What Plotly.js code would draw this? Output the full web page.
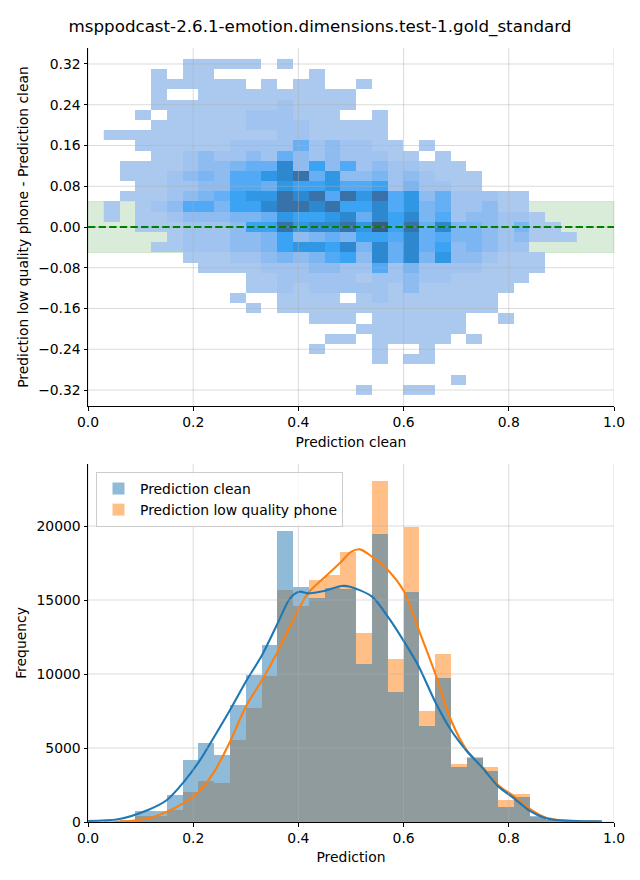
<!DOCTYPE html>
<html>
<head>
<meta charset="utf-8">
<script src="https://cdn.plot.ly/plotly-3.0.1.min.js"></script>
<style>html,body{margin:0;padding:0;background:#fff;}#chart{width:640px;height:880px;}</style>
</head>
<body>
<div id="chart"></div>
<script>
// ---------------- DATA ----------------
const titleText = "msppodcast-2.6.1-emotion.dimensions.test-1.gold_standard";

// bin centres of "Prediction clean" (x) – shared by the 2-D and 1-D histograms
const predBinCenters = [0.045,0.075,0.105,0.135,0.165,0.195,0.225,0.255,0.285,0.315,
                        0.345,0.375,0.405,0.435,0.465,0.495,0.525,0.555,0.585,0.615,
                        0.645,0.675,0.705,0.735,0.765,0.795,0.825,0.855,0.885,0.915];
// bin centres of the difference (y), top to bottom
const diffBinCenters = [0.32,0.30,0.28,0.26,0.24,0.22,0.20,0.18,0.16,0.14,0.12,0.10,0.08,0.06,0.04,0.02,0.00,
                        -0.02,-0.04,-0.06,-0.08,-0.10,-0.12,-0.14,-0.16,-0.18,-0.20,-0.22,-0.24,-0.26,-0.28,-0.30,-0.32];
// density level of each 2-D cell (0 = empty), rows follow diffBinCenters
const densityLevel = [
 [0,0,0,0,0,1,1,1,1,1,0,1,0,0,0,0,0,0,0,0,0,0,0,0,0,0,0,0,0,0],
 [0,0,0,1,0,1,1,0,0,0,0,0,0,1,0,0,0,0,0,0,0,0,0,0,0,0,0,0,0,0],
 [0,0,0,1,1,1,1,1,1,0,1,0,1,1,0,0,1,0,0,0,0,0,0,0,0,0,0,0,0,0],
 [0,0,0,1,0,0,1,1,1,1,1,1,1,1,1,1,0,0,0,0,0,0,0,0,0,0,0,0,0,0],
 [0,0,0,1,1,1,1,1,1,1,1,2,1,1,1,1,0,0,0,0,0,0,0,0,0,0,0,0,0,0],
 [0,0,1,0,1,1,1,1,1,2,2,2,1,1,1,0,0,1,0,0,0,0,0,0,0,0,0,0,0,0],
 [0,0,0,1,1,1,1,1,1,2,2,2,2,1,1,1,1,1,0,0,0,0,0,0,0,0,0,0,0,0],
 [1,1,1,1,1,1,1,1,1,1,1,2,2,1,1,1,1,1,0,0,0,0,0,0,0,0,0,0,0,0],
 [0,0,1,1,1,1,1,1,2,2,2,2,5,2,3,2,2,1,1,0,1,0,0,0,0,0,0,0,0,0],
 [0,0,0,1,1,2,3,2,2,3,2,5,3,2,3,2,2,2,1,1,0,1,0,0,0,0,0,0,0,0],
 [0,1,1,1,1,2,3,3,4,5,5,9,3,7,3,6,2,3,2,2,1,1,1,0,0,0,0,0,0,0],
 [0,1,1,1,2,3,4,3,6,6,8,9,10,5,8,3,3,4,2,3,2,1,1,1,0,0,0,0,0,0],
 [0,0,1,1,2,2,3,3,6,6,5,8,7,7,8,6,6,7,2,4,2,2,1,1,0,0,0,0,0,0],
 [0,1,1,1,2,3,4,5,7,8,8,10,9,10,6,10,8,10,6,8,3,5,2,2,2,1,1,0,0,0],
 [1,0,1,2,3,6,6,4,7,7,9,10,10,9,10,7,7,9,6,8,4,5,2,2,3,1,1,0,0,0],
 [1,0,1,1,2,3,3,3,4,4,5,8,7,7,8,9,5,9,7,9,4,6,2,3,3,2,2,1,0,0],
 [0,0,1,1,1,2,2,2,3,7,7,10,8,9,9,10,8,11,7,10,5,9,4,4,3,2,4,1,1,0],
 [0,0,0,0,1,2,2,2,3,3,4,7,3,4,5,4,7,7,6,9,5,6,4,4,3,2,3,1,1,1],
 [0,0,0,1,1,2,2,2,3,3,4,7,8,8,7,9,4,9,5,9,5,7,3,4,3,2,2,0,0,0],
 [0,0,0,0,0,1,1,1,2,2,3,4,3,4,6,7,3,9,5,9,4,8,3,3,2,1,1,1,0,0],
 [0,0,0,0,0,0,1,1,1,1,2,2,2,3,3,2,2,6,2,4,2,2,2,2,1,1,1,1,0,0],
 [0,0,0,0,0,0,0,0,0,1,1,2,2,2,2,2,1,2,2,3,2,2,1,1,1,1,1,0,0,0],
 [0,0,0,0,0,0,0,0,0,1,1,2,1,2,2,2,2,2,1,3,1,1,1,1,1,1,0,0,0,0],
 [0,0,0,0,0,0,0,0,1,0,0,1,1,1,1,0,1,2,1,1,1,1,1,1,1,0,0,0,0,0],
 [0,0,0,0,0,0,0,0,0,1,0,1,1,1,1,1,1,1,1,1,1,1,1,1,1,0,0,0,0,0],
 [0,0,0,0,0,0,0,0,0,0,0,0,0,1,1,1,0,1,1,1,1,1,1,0,0,1,0,0,0,0],
 [0,0,0,0,0,0,0,0,0,0,0,0,0,0,0,0,1,1,1,1,1,1,1,0,0,0,0,0,0,0],
 [0,0,0,0,0,0,0,0,0,0,0,0,0,0,1,1,0,1,1,1,1,1,0,1,0,0,0,0,0,0],
 [0,0,0,0,0,0,0,0,0,0,0,0,0,1,0,0,0,1,0,0,1,0,0,0,0,0,0,0,0,0],
 [0,0,0,0,0,0,0,0,0,0,0,0,0,0,0,0,0,1,0,1,1,0,0,0,0,0,0,0,0,0],
 [0,0,0,0,0,0,0,0,0,0,0,0,0,0,0,0,0,0,0,0,0,0,0,0,0,0,0,0,0,0],
 [0,0,0,0,0,0,0,0,0,0,0,0,0,0,0,0,0,0,0,0,0,0,1,0,0,0,0,0,0,0],
 [0,0,0,0,0,0,0,0,0,0,0,0,0,0,0,0,1,0,0,1,1,0,0,0,0,0,0,0,0,0]
];

// 1-D histogram counts per bin
const countsClean = [40,120,740,740,1820,4190,5340,4530,7900,9930,11960,19660,15880,15160,15790,
                     15720,10700,19460,8810,15540,6510,9730,3740,4320,3450,1040,1690,400,150,60];
const countsPhone = [20,60,380,380,810,2050,2770,2630,5540,7680,9870,15680,14620,16350,16690,
                     18270,12770,23040,11010,19930,7500,11350,3920,4410,3720,1490,1870,310,130,50];

// KDE curves
const kdeCleanX = [0.0,0.057,0.114,0.150,0.181,0.211,0.240,0.270,0.300,0.331,0.359,0.380,0.390,0.402,0.418,0.431,0.451,0.482,0.498,0.540,0.570,0.601,0.629,0.660,0.690,0.720,0.751,0.779,0.810,0.840,0.870,0.900,0.935,0.977];
const kdeCleanY = [68,182,811,1486,2658,4077,5766,7568,9482,11284,13311,14887,15338,15563,15450,15495,15630,15946,15900,15225,13874,12185,10496,8130,6216,4800,3620,2440,1600,750,250,100,55,40];
const kdePhoneX = [0.05,0.085,0.114,0.150,0.181,0.211,0.240,0.270,0.300,0.331,0.359,0.390,0.418,0.451,0.480,0.500,0.517,0.540,0.570,0.601,0.629,0.660,0.690,0.720,0.750,0.780,0.810,0.840,0.870,0.900,0.935,0.970];
const kdePhoneY = [15,90,248,698,1261,2050,3401,5428,7793,9595,11396,13649,15450,16577,17530,18250,18423,17928,17027,15563,12973,10045,6892,4860,3700,2480,1735,880,290,125,50,30];

// ticks
const xTickVals = [0,0.2,0.4,0.6,0.8,1.0];
const xTickText = ["0.0","0.2","0.4","0.6","0.8","1.0"];
const diffTickVals = [-0.32,-0.24,-0.16,-0.08,0.0,0.08,0.16,0.24,0.32];
const diffTickText = ["\u22120.32","\u22120.24","\u22120.16","\u22120.08","0.00","0.08","0.16","0.24","0.32"];
const freqTickVals = [0,5000,10000,15000,20000];
const freqTickText = ["0","5000","10000","15000","20000"];

// ---------------- STYLE / BUILD ----------------
const FONT = "DejaVu Sans";
const levelColors = ["#abc8ee","#a1c3ef","#8ebbf0","#7bb5f2","#66aff4","#52a9f5","#3aa3f4","#2f97e4","#2e88d0","#3872a8","#395c85"];
const colorscale = levelColors.map((c,i)=>[i/(levelColors.length-1), c]);

const zRows = densityLevel.map(r => r.map(v => v === 0 ? null : v)).slice().reverse();
const yAsc = diffBinCenters.slice().reverse();

const traces = [
  {type:"heatmap", x:predBinCenters, y:yAsc, z:zRows, colorscale:colorscale, zmin:1, zmax:11,
   showscale:false, hoverinfo:"skip", xaxis:"x", yaxis:"y", showlegend:false},
  {type:"bar", x:predBinCenters, y:countsPhone, width:0.03, name:"Prediction low quality phone",
   marker:{color:"rgba(255,127,14,0.5)", line:{width:0}}, xaxis:"x2", yaxis:"y2", legendrank:2},
  {type:"bar", x:predBinCenters, y:countsClean, width:0.03, name:"Prediction clean",
   marker:{color:"rgba(31,119,180,0.5)", line:{width:0}}, xaxis:"x2", yaxis:"y2", legendrank:1},
  {type:"scatter", mode:"lines", x:kdePhoneX, y:kdePhoneY, line:{color:"#ff7f0e", width:2.1, shape:"spline", smoothing:0.8},
   xaxis:"x2", yaxis:"y2", showlegend:false, hoverinfo:"skip"},
  {type:"scatter", mode:"lines", x:kdeCleanX, y:kdeCleanY, line:{color:"#1f77b4", width:2.1, shape:"spline", smoothing:0.8},
   xaxis:"x2", yaxis:"y2", showlegend:false, hoverinfo:"skip"}
];

const gridColor = "rgba(176,176,176,0.5)";
const shapes = [];
// tolerance band (below everything)
shapes.push({type:"rect", xref:"x domain", yref:"y", x0:0, x1:1, y0:-0.05, y1:0.05,
  fillcolor:"rgba(0,128,0,0.15)", line:{color:"rgba(0,128,0,0.12)", width:1}, layer:"below"});
// grid lines drawn over the cells / bars
xTickVals.forEach(v=>{
  shapes.push({type:"line", xref:"x", yref:"y domain", x0:v, x1:v, y0:0, y1:1, line:{color:gridColor, width:0.9}, layer:"above"});
  shapes.push({type:"line", xref:"x2", yref:"y2 domain", x0:v, x1:v, y0:0, y1:1, line:{color:gridColor, width:0.9}, layer:"above"});
});
diffTickVals.forEach(v=>{
  shapes.push({type:"line", xref:"x domain", yref:"y", x0:0, x1:1, y0:v, y1:v, line:{color:gridColor, width:0.9}, layer:"above"});
});
freqTickVals.forEach(v=>{
  shapes.push({type:"line", xref:"x2 domain", yref:"y2", x0:0, x1:1, y0:v, y1:v, line:{color:gridColor, width:0.9}, layer:"above"});
});
// zero reference line
shapes.push({type:"line", xref:"x domain", yref:"y", x0:0, x1:1, y0:0, y1:0,
  line:{color:"#008000", width:2, dash:"7.4px,3.2px"}, layer:"above"});

const tickFont = {family:FONT, size:13.9, color:"#000"};
const axisCommon = {showline:true, linecolor:"#000", linewidth:1, ticks:"outside", ticklen:3.5, tickwidth:1,
  tickcolor:"#000", showgrid:false, zeroline:false, tickfont:tickFont, mirror:false, fixedrange:true};

const layout = {
  width:640, height:880,
  margin:{l:88, r:26, t:48, b:58},
  paper_bgcolor:"#fff", plot_bgcolor:"rgba(0,0,0,0)",
  font:{family:FONT, size:13.9, color:"#000"},
  title:{text:titleText, font:{family:FONT, size:16.7, color:"#000"}, xref:"container", x:0.5, xanchor:"center",
         yref:"container", y:1-26/880, yanchor:"middle"},
  barmode:"overlay", bargap:0,
  showlegend:true,
  legend:{x:(96-88)/526, y:(822-472)/774, xanchor:"left", yanchor:"top", bgcolor:"rgba(255,255,255,0.8)",
          bordercolor:"#cccccc", borderwidth:1, font:{family:FONT, size:13.9, color:"#000"}, tracegroupgap:0, itemwidth:33},
  xaxis:Object.assign({}, axisCommon, {domain:[0,1], range:[0,1], anchor:"y", tickvals:xTickVals, ticktext:xTickText,
         title:{text:"Prediction clean", font:{family:FONT, size:13.9, color:"#000"}, standoff:8}}),
  yaxis:Object.assign({}, axisCommon, {domain:[(822-406)/774,1], range:[-0.3514,0.3514], anchor:"x",
         tickvals:diffTickVals, ticktext:diffTickText,
         title:{text:"Prediction low quality phone - Prediction clean", font:{family:FONT, size:13.9, color:"#000"}, standoff:6}}),
  xaxis2:Object.assign({}, axisCommon, {domain:[0,1], range:[0,1], anchor:"y2", tickvals:xTickVals, ticktext:xTickText,
         title:{text:"Prediction", font:{family:FONT, size:13.9, color:"#000"}, standoff:7}}),
  yaxis2:Object.assign({}, axisCommon, {domain:[0,(822-464)/774], range:[0,24190], anchor:"x2",
         tickvals:freqTickVals, ticktext:freqTickText,
         title:{text:"Frequency", font:{family:FONT, size:13.9, color:"#000"}, standoff:6}}),
  shapes:shapes
};

Plotly.newPlot("chart", traces, layout, {staticPlot:true, displayModeBar:false});
</script>
</body>
</html>
